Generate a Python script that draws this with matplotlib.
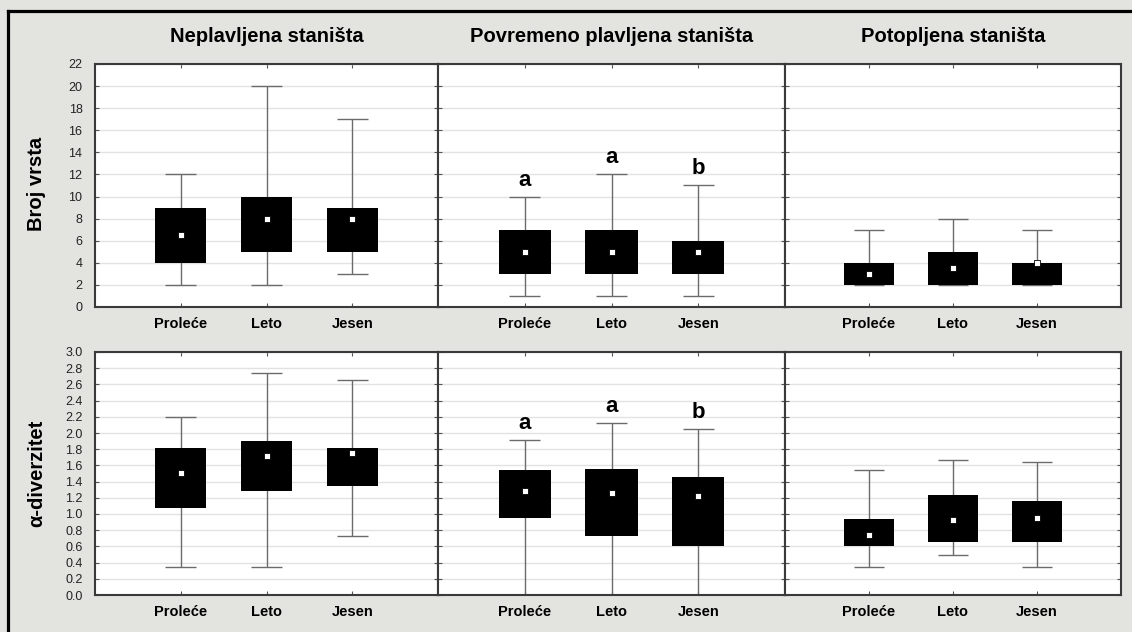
import matplotlib
matplotlib.use("Agg")
import matplotlib.pyplot as plt
from matplotlib.lines import Line2D

plt.rcParams['font.family'] = ['Liberation Sans', 'DejaVu Sans']

seasons = ["Proleće", "Leto", "Jesen"]
habitats = ["Neplavljena staništa", "Povremeno plavljena staništa", "Potopljena staništa"]
metrics = ["Broj vrsta", "α-diverzitet"]

# Broj vrsta (per habitat: Proleće, Leto, Jesen)
broj_center = [[6.5, 8, 8], [5, 5, 5], [3, 3.5, 4]]
broj_box_low = [[4, 5, 5], [3, 3, 3], [2, 2, 2]]
broj_box_high = [[9, 10, 9], [7, 7, 6], [4, 5, 4]]
broj_whisk_low = [[2, 2, 3], [1, 1, 1], [2, 2, 2]]
broj_whisk_high = [[12, 20, 17], [10, 12, 11], [7, 8, 7]]

# α-diverzitet
alpha_center = [[1.51, 1.71, 1.75], [1.29, 1.26, 1.22], [0.74, 0.92, 0.95]]
alpha_box_low = [[1.08, 1.29, 1.35], [0.95, 0.73, 0.60], [0.61, 0.65, 0.65]]
alpha_box_high = [[1.82, 1.90, 1.82], [1.54, 1.55, 1.46], [0.94, 1.24, 1.16]]
alpha_whisk_low = [[0.35, 0.35, 0.73], [0.0, 0.0, 0.0], [0.34, 0.49, 0.34]]
alpha_whisk_high = [[2.20, 2.74, 2.65], [1.91, 2.12, 2.05], [1.54, 1.67, 1.64]]

letters = [None, ["a", "a", "b"], None]

broj_ticks = list(range(0, 23, 2))
alpha_ticks = [round(0.2 * i, 1) for i in range(16)]

W, H = 1132, 632
BG = "#e3e3df"
fig = plt.figure(figsize=(W / 100, H / 100), dpi=100, facecolor=BG)

col_edges = [95, 438, 785, 1121]
row_edges = [(64, 307), (352, 595)]

data = [
    (broj_center, broj_box_low, broj_box_high, broj_whisk_low, broj_whisk_high, broj_ticks, "{:d}"),
    (alpha_center, alpha_box_low, alpha_box_high, alpha_whisk_low, alpha_whisk_high, alpha_ticks, "{:.1f}"),
]

xs = [1, 2, 3]
for r, (cen, blo, bhi, wlo, whi, ticks, fmt) in enumerate(data):
    top, bot = row_edges[r]
    ymax = ticks[-1]
    for c in range(3):
        x0, x1 = col_edges[c], col_edges[c + 1]
        ax = fig.add_axes([x0 / W, 1 - bot / H, (x1 - x0) / W, (bot - top) / H])
        ax.set_facecolor("white")
        ax.set_xlim(0, 4)
        ax.set_ylim(0, ymax)
        ax.set_yticks(ticks)
        ax.set_yticklabels([fmt.format(t) for t in ticks])
        ax.set_xticks(xs)
        ax.set_xticklabels(seasons, fontweight="bold", fontsize=10.5)
        ax.yaxis.grid(True, color="#e2e2e2", lw=1.0, zorder=0)
        ax.set_axisbelow(True)
        ax.tick_params(axis="both", direction="in", length=3, width=0.8,
                       color="#555555", top=True, right=True)
        ax.tick_params(axis="y", labelsize=9, labelcolor="#222222", pad=9,
                       labelleft=(c == 0))
        ax.tick_params(axis="x", pad=7, labelcolor="black")
        for s in ax.spines.values():
            s.set_color("#3a3a3a")
            s.set_linewidth(1.5)
        lows = wlo[c]
        highs = whi[c]
        ax.vlines(xs, lows, highs, color="#6b6b6b", lw=1.0, zorder=2)
        ax.hlines(highs, [x - 0.18 for x in xs], [x + 0.18 for x in xs],
                  color="#6b6b6b", lw=1.0, zorder=2)
        ax.hlines(lows, [x - 0.18 for x in xs], [x + 0.18 for x in xs],
                  color="#6b6b6b", lw=1.0, zorder=2)
        ax.bar(xs, [h - l for h, l in zip(bhi[c], blo[c])], bottom=blo[c],
               width=0.6, color="black", zorder=3)
        ax.plot(xs, cen[c], ls="none", marker="s", ms=4, mfc="white",
                mec="black", mew=0.6, zorder=4)
        if letters[c]:
            for x, h, t in zip(xs, highs, letters[c]):
                ax.text(x, h + 0.068 * ymax, t, ha="center", va="center",
                        fontsize=16, fontweight="bold", zorder=5)

for c, name in enumerate(habitats):
    cx = (col_edges[c] + col_edges[c + 1]) / 2
    fig.text(cx / W, 1 - 37 / H, name, ha="center", va="center",
             fontsize=14.5, fontweight="bold")

fig.text(37 / W, 1 - 184 / H, metrics[0], rotation=90, ha="center", va="center",
         fontsize=14.5, fontweight="bold")
fig.text(37 / W, 1 - 473 / H, metrics[1], rotation=90, ha="center", va="center",
         fontsize=14.5, fontweight="bold")

# outer frame (top and left)
fig.add_artist(Line2D([8 / W, 1.0], [1 - 11 / H, 1 - 11 / H], color="black", lw=2.3,
                      transform=fig.transFigure))
fig.add_artist(Line2D([8 / W, 8 / W], [0, 1 - 11 / H], color="black", lw=2.3,
                      transform=fig.transFigure))

fig.savefig("out.png", dpi=100, facecolor=BG)
